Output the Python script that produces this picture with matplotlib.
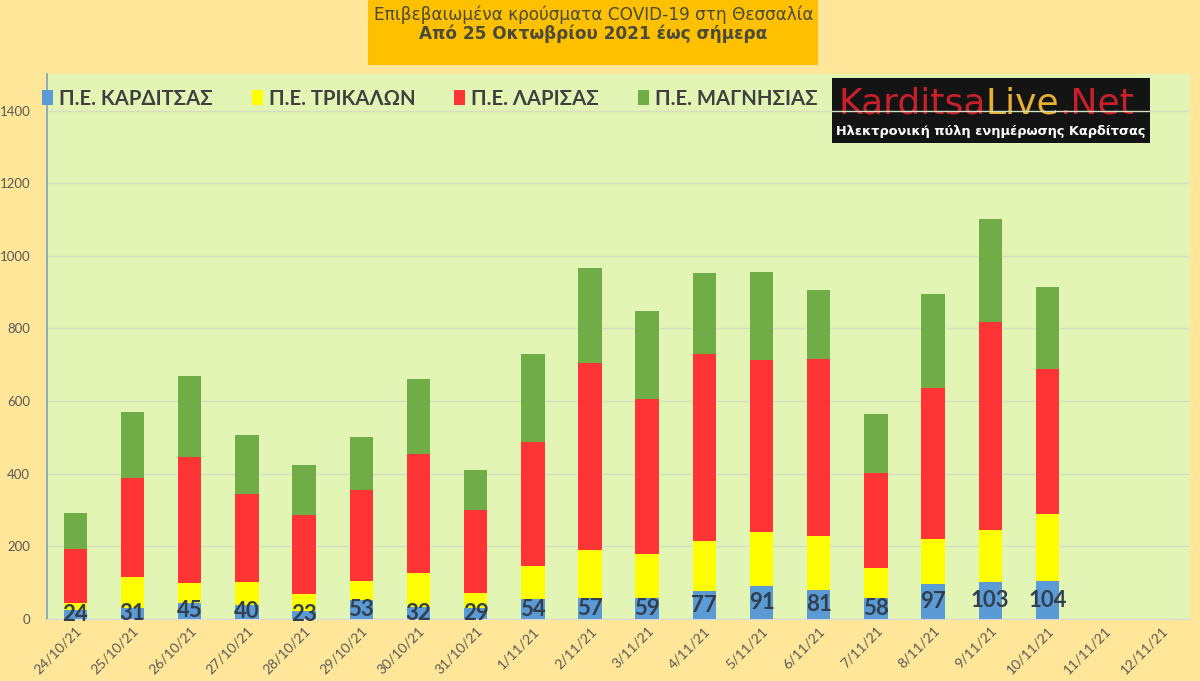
import numpy as np
import matplotlib
matplotlib.use("Agg")
import matplotlib.pyplot as plt
from matplotlib.patches import Rectangle, Patch

dates = ["24/10/21", "25/10/21", "26/10/21", "27/10/21", "28/10/21", "29/10/21",
         "30/10/21", "31/10/21", "1/11/21", "2/11/21", "3/11/21", "4/11/21",
         "5/11/21", "6/11/21", "7/11/21", "8/11/21", "9/11/21", "10/11/21",
         "11/11/21", "12/11/21"]

karditsa = [24, 31, 45, 40, 23, 53, 32, 29, 54, 57, 59, 77, 91, 81, 58, 97, 103, 104, 0, 0]
trikala = [21, 85, 53, 62, 46, 53, 95, 44, 93, 133, 120, 138, 149, 148, 82, 124, 143, 185, 0, 0]
larisa = [148, 273, 349, 242, 217, 248, 326, 227, 340, 514, 428, 515, 474, 488, 261, 415, 573, 400, 0, 0]
magnisia = [98, 182, 223, 164, 137, 147, 207, 109, 242, 263, 240, 223, 242, 190, 163, 260, 282, 225, 0, 0]
n_days = 18  # days with data

labels = ["Π.Ε. ΚΑΡΔΙΤΣΑΣ", "Π.Ε. ΤΡΙΚΑΛΩΝ", "Π.Ε. ΛΑΡΙΣΑΣ", "Π.Ε. ΜΑΓΝΗΣΙΑΣ"]
colors = ["#5B9BD5", "#FFFF00", "#FF3535", "#70AD47"]

plt.rcParams['font.family'] = ['Lato', 'DejaVu Sans']

fig = plt.figure(figsize=(12, 6.81), dpi=100)
fig.patch.set_facecolor("#FFE699")
ax = fig.add_axes([0.039, 0.091, 0.953, 0.8])
ax.set_facecolor("#E3F5B4")

x = np.arange(len(dates))
series = [karditsa, trikala, larisa, magnisia]
bottom = np.zeros(len(dates))
for vals, col in zip(series, colors):
    vals = np.array(vals, dtype=float)
    ax.bar(x, vals, 0.41, bottom=bottom, color=col, zorder=2)
    bottom += vals

# Karditsa values printed on the blue segment
for i in range(n_days):
    ax.text(x[i], karditsa[i] / 2, str(karditsa[i]), ha="center", va="center",
            fontsize=16, fontweight="bold", color="#323F4F", zorder=4)

ax.set_xlim(-0.5, len(dates) - 0.5)
ax.set_ylim(0, 1500)
ax.set_yticks(range(0, 1401, 200))
ax.yaxis.grid(True, color="#D5DEC0", lw=1)
ax.set_axisbelow(True)
ax.tick_params(axis="y", length=0, pad=12, labelsize=9.5, labelcolor="#595959")
ax.tick_params(axis="x", length=0, pad=4, labelsize=10, labelcolor="#595959")
ax.set_xticks(x)
ax.set_xticklabels(dates, rotation=45, ha="right", va="top", rotation_mode="anchor")
for s in ["top", "right"]:
    ax.spines[s].set_visible(False)
ax.spines["left"].set_color("#7F9FC0")
ax.spines["left"].set_linewidth(1.2)
ax.spines["bottom"].set_color("#D9D9D9")

handles = [Patch(facecolor=c, edgecolor="none") for c in colors]
leg = ax.legend(handles, labels, ncol=4, loc="center left", bbox_to_anchor=(-0.02, 0.955),
                frameon=False, handlelength=0.55, handleheight=0.75, handletextpad=0.3,
                columnspacing=1.9, prop={"family": "Lato", "weight": "bold", "size": 14.6})
for t in leg.get_texts():
    t.set_color("#404040")
leg.set_zorder(5)

# title box
fig.patches.append(Rectangle((0.307, 0.905), 0.375, 0.1, transform=fig.transFigure,
                             facecolor="#FFC000", edgecolor="none", zorder=0))
fig.text(0.4945, 0.978, "Επιβεβαιωμένα κρούσματα COVID-19 στη Θεσσαλία",
         ha="center", va="center", fontsize=12.2, color="#4A4A3A", family="DejaVu Sans")
fig.text(0.4945, 0.951, "Από 25 Οκτωβρίου 2021 έως σήμερα",
         ha="center", va="center", fontsize=12.2, fontweight="bold", color="#4A4A3A",
         family="DejaVu Sans")

# logo block
lx0, lx1 = 832 / 1200, 1150 / 1200
ly0, ly1 = 1 - 143 / 681, 1 - 78 / 681
ax.add_patch(Rectangle((lx0, ly0), lx1 - lx0, ly1 - ly0, transform=fig.transFigure,
                       facecolor="#141414", edgecolor="none", zorder=0.3))
ly = 1 - 104 / 681
parts = [("Karditsa", "#C8202A"), ("Live", "#E8B030"), (".Net", "#C8202A")]
px = 838 / 1200
for word, col in parts:
    t = ax.text(px, ly, word, transform=fig.transFigure, fontsize=26, color=col,
                va="center", ha="left", family="DejaVu Sans", zorder=0.35)
    fig.canvas.draw()
    px = t.get_window_extent().transformed(fig.transFigure.inverted()).x1
ax.text((lx0 + lx1) / 2, 1 - 131 / 681, "Ηλεκτρονική πύλη ενημέρωσης Καρδίτσας",
        transform=fig.transFigure, fontsize=9.3, fontweight="bold", color="white",
        ha="center", va="center", family="DejaVu Sans", zorder=0.35)

fig.savefig("out.png", dpi=100, facecolor=fig.get_facecolor())
